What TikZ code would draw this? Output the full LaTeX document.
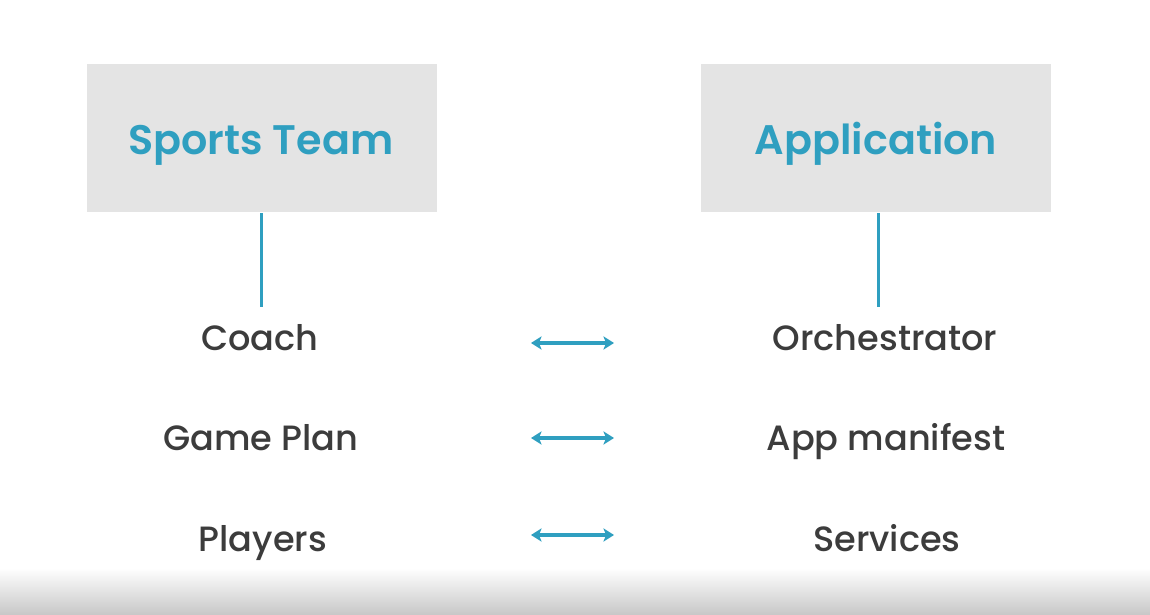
\documentclass[tikz,border=0pt]{standalone}
\usepackage{fontspec}
\setmainfont{Poppins}
\newfontfamily\medfont{Poppins Medium}
\newfontfamily\semifont{Poppins SemiBold}
\usetikzlibrary{arrows.meta}
\definecolor{teal}{HTML}{2F9FC0}
\definecolor{boxgrey}{HTML}{E4E4E4}
\definecolor{labelgrey}{HTML}{3C3C3C}
\begin{document}
\begin{tikzpicture}[x=0.02cm,y=-0.02cm,
  headbox/.style={fill=boxgrey, minimum width=350*0.02cm, minimum height=148*0.02cm,
    inner sep=0pt},
  headtext/.style={text=teal, font=\semifont\fontsize{23.5}{28}\selectfont, inner sep=0pt, anchor=base},
  item/.style={text=labelgrey, font=\medfont\fontsize{20}{24}\selectfont, inner sep=0pt, anchor=base},
  link/.style={draw=teal, line width=1.7pt},
  pairarrow/.style={draw=teal, line width=1.9pt,
    {Stealth[length=6pt,width=7.5pt,inset=1.5pt]}-{Stealth[length=6pt,width=7.5pt,inset=1.5pt]}}]
  % page and bottom shading
  \useasboundingbox (0,0) rectangle (1150,615);
  \fill[white] (0,0) rectangle (1150,615);
  \shade[top color=white, bottom color=black!22] (0,568) rectangle (1150,615);

  % headers
  \node[headbox] (team) at (261.5,138) {};
  \node[headbox] (app)  at (876,138)  {};
  \node[headtext] (teamlabel) at (261,154) {Sports Team};
  \node[headtext] (applabel)  at (876,154) {Application};

  % left column
  \node[item] (coach)   at (260,350) {Coach};
  \node[item] (plan)    at (261,450) {Game Plan};
  \node[item] (players) at (263,551) {Players};

  % right column
  \node[item] (orch)     at (885,350) {Orchestrator};
  \node[item] (manifest) at (886,450) {App manifest};
  \node[item] (services) at (887,551) {Services};

  % header links
  \draw[link] (team.south) ++(0,1) -- ++(0,94) coordinate (teamend);
  \draw[link] (app.south -| 878,0) ++(0,1) -- ++(0,94) coordinate (append);

  % correspondence arrows
  \coordinate (a1l) at (531,343); \coordinate (a1r) at (614,343);
  \coordinate (a2l) at (531,438); \coordinate (a2r) at (614,438);
  \coordinate (a3l) at (531,535); \coordinate (a3r) at (614,535);
  \draw[pairarrow] (a1l) -- (a1r);
  \draw[pairarrow] (a2l) -- (a2r);
  \draw[pairarrow] (a3l) -- (a3r);
\end{tikzpicture}
\end{document}
